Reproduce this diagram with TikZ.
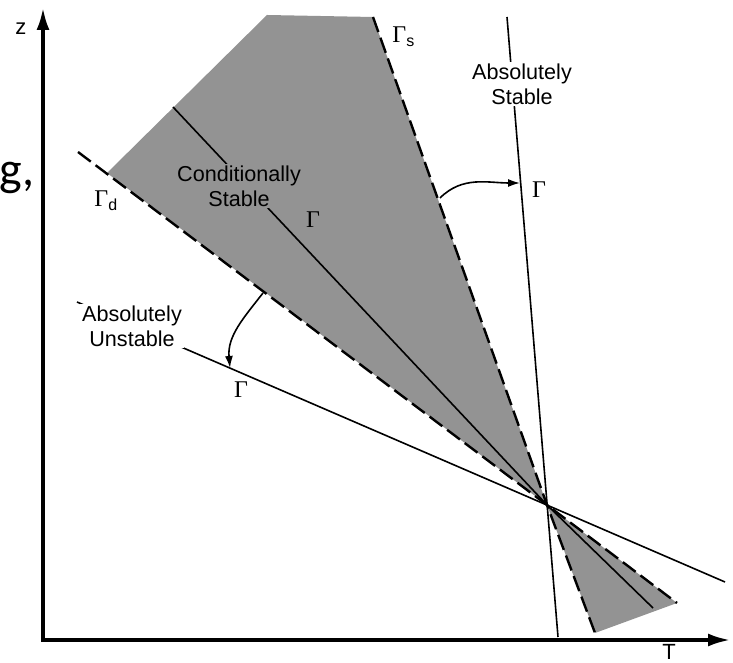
\documentclass[tikz,border=0pt]{standalone}
\usepackage[no-math]{fontspec}
\setmainfont{Liberation Sans}
\newfontfamily\gammafont{Liberation Serif}
\newfontfamily\pagefont{Carlito}
\usetikzlibrary{arrows.meta}
\definecolor{LapseGray}{HTML}{939393}
\tikzset{
  axisline/.style={{Latex[length=11pt,width=6.5pt]}-{Latex[length=11pt,width=6.5pt]},
    line width=1.6pt,line join=miter},
  lapseline/.style={line width=0.8pt},
  boundline/.style={line width=1.2pt,dash pattern=on 8pt off 3pt},
  turnarrow/.style={-{Latex[length=6pt,width=4pt]},line width=0.8pt},
  regionlabel/.style={align=center,font=\fontsize{10.8}{12.5}\selectfont,inner sep=1pt},
  gammalabel/.style={font=\fontsize{12}{14}\selectfont\gammafont,inner sep=0pt},
  axislabel/.style={font=\fontsize{11}{13}\selectfont,inner sep=0pt}
}
\begin{document}
\begin{tikzpicture}[x=0.5pt,y=0.5pt]
  \path[use as bounding box] (0,0) rectangle (733,663);

  % points of the lapse-rate lines
  \coordinate (origin) at (43,23);
  \coordinate (zend) at (43,655);
  \coordinate (tend) at (730,23);
  \coordinate (O) at (547,158);
  \coordinate (stabletop) at (507,646);
  \coordinate (stablebot) at (558,26);
  \coordinate (gstop) at (373,646);
  \coordinate (gsbot) at (595,30);
  \coordinate (shadecorner) at (267,648);
  \coordinate (gdtip) at (107,490);
  \coordinate (gdtop) at (78,511);
  \coordinate (gdbot) at (677,60);
  \coordinate (envtop) at (173,556);
  \coordinate (envbot) at (653,55);
  \coordinate (unsttop) at (77,361);
  \coordinate (unstbot) at (725,81);
  \coordinate (gsturn) at (440,465);
  \coordinate (stableturn) at (520,480);
  \coordinate (gdturn) at (263,370);
  \coordinate (unstturn) at (230,295);

  % conditionally stable wedge
  \fill[LapseGray] (shadecorner) -- (gstop) -- (O) -- (gdtip) -- cycle;
  \fill[LapseGray] (O) -- (gsbot) -- (gdbot) -- cycle;

  \draw[boundline] (gstop) -- (O) -- (gsbot);
  \draw[boundline] (gdtop) -- (O) -- (gdbot);
  \draw[lapseline] (envtop) -- (O) -- (envbot);
  \draw[lapseline] (stabletop) -- (stablebot);
  \draw[lapseline] (unsttop) -- (unstbot);

  \draw[axisline] (zend) -- (origin) -- (tend);
  \node[axislabel] (zlbl) at (21,634) {z};
  \node[axislabel,anchor=base] (tlbl) at (669,3) {T};

  \node[regionlabel,fill=white] (stablelbl) at (522,579) {Absolutely\\Stable};
  \node[regionlabel,fill=LapseGray] (condlbl) at (239,477) {Conditionally\\Stable};
  \node[regionlabel,fill=white] (unstlbl) at (132,337) {Absolutely\\Unstable};

  \node[gammalabel,anchor=base west] (gslbl) at (392,620) {Γ\textsubscript{\normalfont s}};
  \node[gammalabel,anchor=base west] (gdlbl) at (94,456) {Γ\textsubscript{\normalfont d}};
  \node[gammalabel] (stablegamma) at (539,473) {Γ};
  \node[gammalabel] (envgamma) at (313,443) {Γ};
  \node[gammalabel] (unstgamma) at (241,273) {Γ};

  \draw[turnarrow] (gsturn) to[out=45,in=180] (stableturn);
  \draw[turnarrow] (gdturn) to[out=232,in=95] (unstturn);

  \node[font=\pagefont\fontsize{24}{28}\selectfont,anchor=base west,inner sep=0pt]
    (pagetext) at (-1,477) {g,};
\end{tikzpicture}
\end{document}
